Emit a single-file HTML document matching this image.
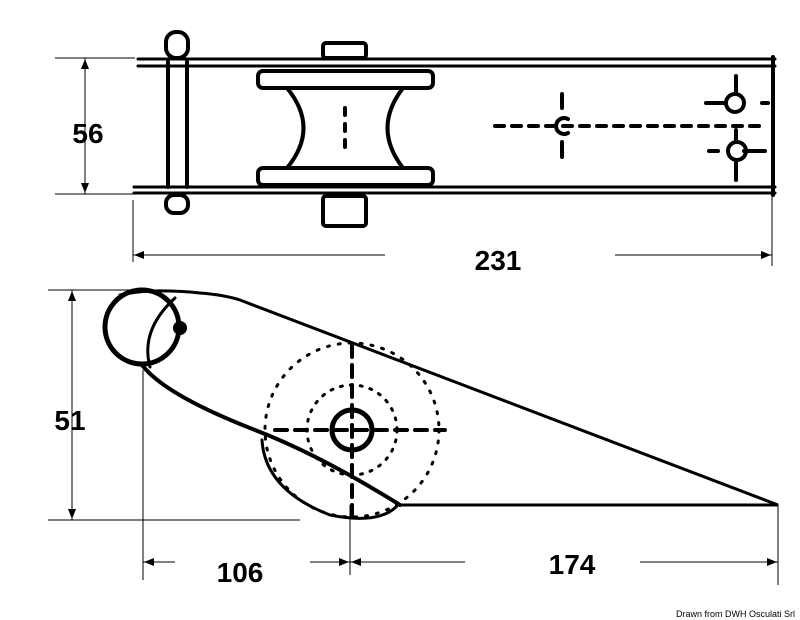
<!DOCTYPE html>
<html><head><style>
html,body{margin:0;padding:0;background:#fff;width:800px;height:620px;overflow:hidden}
svg{display:block}
</style></head><body>
<svg width="800" height="620" viewBox="0 0 800 620" xmlns="http://www.w3.org/2000/svg">
<g fill="none" stroke="#000" stroke-linecap="round">
<!-- top view plates -->
<path d="M138 59 H775 M138 66 H775" stroke-width="3"/>
<path d="M134 187 H775 M134 193 H775" stroke-width="3"/>
<path d="M773 57 V195" stroke-width="4"/>
<!-- pin -->
<path d="M168 62 V187 M187 62 V187" stroke-width="4"/>
<rect x="166" y="32" width="22" height="26" rx="10" stroke-width="4"/>
<rect x="166" y="195" width="22" height="18" rx="8" stroke-width="4"/>
<!-- nuts -->
<rect x="323" y="43" width="43" height="15" rx="3" stroke-width="4"/>
<rect x="323" y="196" width="43" height="30" rx="3" stroke-width="4"/>
<!-- roller -->
<rect x="258" y="71" width="175" height="17" rx="5" stroke-width="4"/>
<rect x="258" y="168" width="175" height="17" rx="5" stroke-width="4"/>
<path d="M287 88 Q320 128 287 168 M403 88 Q372 128 403 168" stroke-width="4"/>
<path d="M345 108 V150" stroke-width="4" stroke-dasharray="7 9"/>
<!-- holes -->
<path d="M495 126 H760" stroke-width="4" stroke-dasharray="9 8"/>
<path d="M562 94 V108 M562 142 V157" stroke-width="4"/>
<path d="M568 119 A8 8 0 1 0 568 133" stroke-width="4"/>
<circle cx="735" cy="103" r="9" stroke-width="4"/>
<circle cx="737" cy="151" r="9" stroke-width="4"/>
<path d="M706 103 H726 M736 76 V94 M744 151 H765 M709 151 H718 M736 130 V142 M736 162 V180 M762 103 H768" stroke-width="4"/>
<!-- side view -->
<circle cx="142" cy="327" r="37" stroke-width="5"/>
<path d="M150 367 Q140 330 175 298" stroke-width="3"/>
<path d="M120 295 Q150 288 200 293 Q225 295 240 300 L778 505 L400 505" stroke-width="3"/>
<path d="M142 365 Q165 395 255 430 Q320 455 400 505" stroke-width="4"/>
<path d="M262 440 Q265 490 330 515 Q380 525 398 505" stroke-width="3"/>
<circle cx="180" cy="328" r="7" fill="#000" stroke="none"/>
<circle cx="352" cy="430" r="87" stroke-width="3" stroke-dasharray="2 9"/>
<circle cx="352" cy="430" r="45" stroke-width="3" stroke-dasharray="2 8"/>
<circle cx="352" cy="430" r="20" stroke-width="5"/>
<path d="M275 430 H445 M352 345 V515" stroke-width="4" stroke-dasharray="12 8"/>
</g>
<!-- dimension lines -->
<g stroke="#000" stroke-width="1" fill="none">
<path d="M55 58 H135 M55 194 H135 M85 58 V194"/>
<path d="M133 200 V262 M772 196 V266 M133 255 H385 M615 255 H772"/>
<path d="M48 290 H170 M48 520 H300 M72 290 V520"/>
<path d="M143 370 V580 M350 505 V575 M778 505 V585 M143 562 H175 M310 562 H465 M640 562 H778"/>
</g>
<g fill="#000">
<path d="M85 59 l-4 10 h8z M85 193 l-4 -10 h8z"/>
<path d="M134 255 l10 -4 v8z M771 255 l-10 -4 v8z"/>
<path d="M72 291 l-4 10 h8z M72 519 l-4 -10 h8z"/>
<path d="M144 562 l10 -4 v8z M349 562 l-10 -4 v8z M351 562 l10 -4 v8z M777 562 l-10 -4 v8z"/>
</g>
<g font-family="'Liberation Sans',sans-serif" font-weight="bold" font-size="28" fill="#000" text-anchor="middle">
<text x="88" y="143">56</text>
<text x="498" y="270">231</text>
<text x="70" y="430">51</text>
<text x="240" y="582">106</text>
<text x="572" y="574">174</text>
</g>
<text x="795" y="617" font-family="'Liberation Sans',sans-serif" font-size="9" text-anchor="end" fill="#000">Drawn from DWH Osculati Srl</text>
</svg>
</body></html>
